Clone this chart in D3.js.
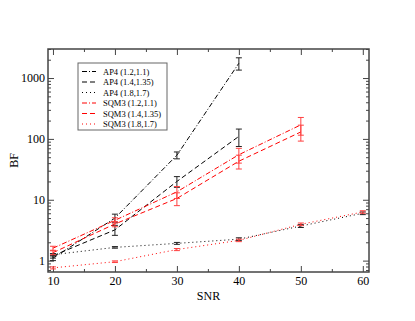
<!DOCTYPE html>
<html>
<head>
<meta charset="utf-8">
<script src="https://cdn.jsdelivr.net/npm/d3@7"></script>
<style>
  body { margin: 0; background: #fff; }
  svg { display: block; font-family: "Liberation Serif", "DejaVu Serif", serif; }
</style>
</head>
<body>
<svg width="415" height="321"></svg>
<script>
// SNR values
const snr = [10, 20, 30, 40, 50, 60];

// BF values, with half-width error bars
const ap4_12 = [1.1, 5.0, 54, 1750];
const ap4_12_err = [0.1, 0.8, 7, 400];
const ap4_14 = [1.2, 3.2, 20, 110];
const ap4_14_err = [0.1, 0.6, 4, 35];
const ap4_18 = [1.25, 1.65, 1.92, 2.25, 3.7, 6.0];
const ap4_18_err = [0.05, 0.05, 0.07, 0.12, 0.2, 0.3];
const sqm_12 = [1.6, 4.6, 13.5, 55, 170];
const sqm_12_err = [0.12, 0.45, 3, 15, 55];
const sqm_14 = [1.35, 4.0, 10.5, 43, 130];
const sqm_14_err = [0.1, 0.4, 2.5, 11, 38];
const sqm_18 = [0.76, 0.96, 1.52, 2.15, 3.95, 6.3];
const sqm_18_err = [0.03, 0.03, 0.06, 0.1, 0.2, 0.3];

const xTicks = [10, 20, 30, 40, 50, 60];
const yTicks = [1, 10, 100, 1000];

const series = [
  {name: "AP4 (1.2,1.1)",   vals: ap4_12, err: ap4_12_err, color: "#000", bar: "#222", dash: "5,2,1,2"},
  {name: "AP4 (1.4,1.35)",  vals: ap4_14, err: ap4_14_err, color: "#000", bar: "#222", dash: "5,3"},
  {name: "AP4 (1.8,1.7)",   vals: ap4_18, err: ap4_18_err, color: "#000", bar: "#222", dash: "1,3"},
  {name: "SQM3 (1.2,1.1)",  vals: sqm_12, err: sqm_12_err, color: "#ff0000", bar: "#ff4040", dash: "5,2,1,2"},
  {name: "SQM3 (1.4,1.35)", vals: sqm_14, err: sqm_14_err, color: "#ff0000", bar: "#ff4040", dash: "5,3"},
  {name: "SQM3 (1.8,1.7)",  vals: sqm_18, err: sqm_18_err, color: "#ff0000", bar: "#ff4040", dash: "1,3"}
];

const pLeft = 48, pRight = 369, pTop = 49, pBottom = 272;

const svg = d3.select("svg");

const x = d3.scaleLinear().domain([9.2, 61]).range([pLeft, pRight]);
const y = d3.scaleLog().domain([0.65, 3000]).range([pBottom, pTop]);

const axisColor = "#444";

// minor log ticks
const minors = [];
[0.1, 1, 10, 100, 1000].forEach(dec => {
  for (let k = 2; k <= 9; k++) {
    const v = dec * k;
    if (v >= 0.65 && v <= 3000) minors.push(v);
  }
});
const xMinors = [15, 25, 35, 45, 55];

function styleAxis(g) {
  g.select(".domain").remove();
  g.selectAll("line").attr("stroke", axisColor).attr("stroke-width", 1);
  g.selectAll("text").attr("fill", "#000").attr("font-size", "12px")
    .attr("font-family", "Liberation Serif, serif");
}

// left axis
svg.append("g").attr("transform", `translate(${pLeft},0)`)
  .call(d3.axisLeft(y).tickValues(yTicks).tickFormat(d3.format("d")).tickSizeInner(-6).tickSizeOuter(0).tickPadding(3))
  .call(styleAxis);
svg.append("g").attr("transform", `translate(${pLeft},0)`)
  .call(d3.axisLeft(y).tickValues(minors).tickFormat("").tickSizeInner(-3).tickSizeOuter(0))
  .call(styleAxis);
// right axis
svg.append("g").attr("transform", `translate(${pRight},0)`)
  .call(d3.axisRight(y).tickValues(yTicks).tickFormat("").tickSizeInner(-6).tickSizeOuter(0))
  .call(styleAxis);
svg.append("g").attr("transform", `translate(${pRight},0)`)
  .call(d3.axisRight(y).tickValues(minors).tickFormat("").tickSizeInner(-3).tickSizeOuter(0))
  .call(styleAxis);
// bottom axis
svg.append("g").attr("transform", `translate(0,${pBottom})`)
  .call(d3.axisBottom(x).tickValues(xTicks).tickFormat(d3.format("d")).tickSizeInner(-6).tickSizeOuter(0).tickPadding(4))
  .call(styleAxis);
svg.append("g").attr("transform", `translate(0,${pBottom})`)
  .call(d3.axisBottom(x).tickValues(xMinors).tickFormat("").tickSizeInner(-3).tickSizeOuter(0))
  .call(styleAxis);
// top axis
svg.append("g").attr("transform", `translate(0,${pTop})`)
  .call(d3.axisTop(x).tickValues(xTicks).tickFormat("").tickSizeInner(-6).tickSizeOuter(0))
  .call(styleAxis);
svg.append("g").attr("transform", `translate(0,${pTop})`)
  .call(d3.axisTop(x).tickValues(xMinors).tickFormat("").tickSizeInner(-3).tickSizeOuter(0))
  .call(styleAxis);

// frame
svg.append("rect")
  .attr("x", pLeft).attr("y", pTop)
  .attr("width", pRight - pLeft).attr("height", pBottom - pTop)
  .attr("fill", "none").attr("stroke", axisColor).attr("stroke-width", 1.5);

// axis labels
svg.append("text")
  .attr("x", (pLeft + pRight) / 2).attr("y", 300)
  .attr("text-anchor", "middle").attr("font-size", "12px")
  .text("SNR");
svg.append("text")
  .attr("transform", `translate(18,${(pTop + pBottom) / 2}) rotate(-90)`)
  .attr("text-anchor", "middle").attr("font-size", "12px")
  .text("BF");

const line = d3.line().x(d => x(d.s)).y(d => y(d.v));

series.forEach(s => {
  const pts = s.vals.map((v, i) => ({s: snr[i], v: v, e: s.err[i]}));
  const g = svg.append("g");
  g.append("path")
    .datum(pts)
    .attr("d", line)
    .attr("fill", "none")
    .attr("stroke", s.color)
    .attr("stroke-width", 1)
    .attr("stroke-dasharray", s.dash);
  const eb = g.selectAll(".eb").data(pts).join("g").attr("class", "eb")
    .attr("stroke", s.bar).attr("stroke-width", 1);
  eb.append("line")
    .attr("x1", d => x(d.s)).attr("x2", d => x(d.s))
    .attr("y1", d => y(d.v - d.e)).attr("y2", d => y(d.v + d.e));
  eb.append("line")
    .attr("x1", d => x(d.s) - 3).attr("x2", d => x(d.s) + 3)
    .attr("y1", d => y(d.v - d.e)).attr("y2", d => y(d.v - d.e));
  eb.append("line")
    .attr("x1", d => x(d.s) - 3).attr("x2", d => x(d.s) + 3)
    .attr("y1", d => y(d.v + d.e)).attr("y2", d => y(d.v + d.e));
});

// legend
const legend = svg.append("g");
legend.append("rect")
  .attr("x", 78).attr("y", 63).attr("width", 89).attr("height", 67)
  .attr("fill", "#fff").attr("stroke", "#666").attr("stroke-width", 1);
series.forEach((s, i) => {
  const yy = 71.5 + i * 10.5;
  legend.append("line")
    .attr("x1", 82).attr("x2", 96).attr("y1", yy).attr("y2", yy)
    .attr("stroke", s.color).attr("stroke-width", 1)
    .attr("stroke-dasharray", s.dash);
  legend.append("text")
    .attr("x", 103).attr("y", yy + 3)
    .attr("font-size", "8.5px")
    .text(s.name);
});
</script>
</body>
</html>
